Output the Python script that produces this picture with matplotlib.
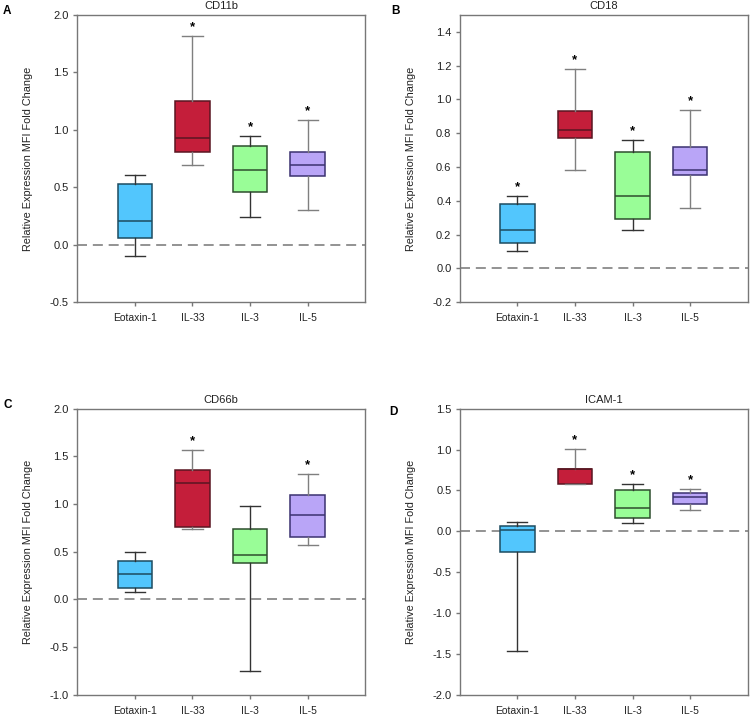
import matplotlib.pyplot as plt

plt.rcParams['font.family'] = ['Liberation Sans', 'DejaVu Sans']

categories = ['Eotaxin-1', 'IL-33', 'IL-3', 'IL-5']

# five-number summaries per group: whisker low, q1, median, q3, whisker high
cd11b_low = [-0.10, 0.69, 0.24, 0.30]
cd11b_q1 = [0.06, 0.81, 0.46, 0.60]
cd11b_med = [0.21, 0.93, 0.65, 0.69]
cd11b_q3 = [0.53, 1.25, 0.86, 0.81]
cd11b_high = [0.61, 1.82, 0.95, 1.09]
cd11b_sig = [False, True, True, True]

cd18_low = [0.10, 0.58, 0.23, 0.36]
cd18_q1 = [0.15, 0.77, 0.29, 0.55]
cd18_med = [0.23, 0.82, 0.43, 0.58]
cd18_q3 = [0.38, 0.93, 0.69, 0.72]
cd18_high = [0.43, 1.18, 0.76, 0.94]
cd18_sig = [True, True, True, True]

cd66b_low = [0.08, 0.74, -0.75, 0.57]
cd66b_q1 = [0.12, 0.76, 0.38, 0.65]
cd66b_med = [0.27, 1.22, 0.46, 0.88]
cd66b_q3 = [0.40, 1.36, 0.74, 1.10]
cd66b_high = [0.50, 1.57, 0.98, 1.32]
cd66b_sig = [False, True, False, True]

icam1_low = [-1.47, 0.58, 0.10, 0.26]
icam1_q1 = [-0.26, 0.58, 0.16, 0.33]
icam1_med = [0.01, 0.76, 0.29, 0.42]
icam1_q3 = [0.07, 0.76, 0.50, 0.47]
icam1_high = [0.11, 1.01, 0.58, 0.52]
icam1_sig = [False, True, True, True]

fills = ['#52C6FD', '#C41E3A', '#99FD97', '#B9A5F7']
edges = ['#1d4c60', '#5a1622', '#2e4e2e', '#3b3270']
whisk = ['#333333', '#7f7f7f', '#333333', '#7f7f7f']

panels = [
    ('A', 'CD11b', cd11b_low, cd11b_q1, cd11b_med, cd11b_q3, cd11b_high, cd11b_sig,
     (-0.5, 2.0), [-0.5, 0.0, 0.5, 1.0, 1.5, 2.0]),
    ('B', 'CD18', cd18_low, cd18_q1, cd18_med, cd18_q3, cd18_high, cd18_sig,
     (-0.2, 1.5), [-0.2, 0.0, 0.2, 0.4, 0.6, 0.8, 1.0, 1.2, 1.4]),
    ('C', 'CD66b', cd66b_low, cd66b_q1, cd66b_med, cd66b_q3, cd66b_high, cd66b_sig,
     (-1.0, 2.0), [-1.0, -0.5, 0.0, 0.5, 1.0, 1.5, 2.0]),
    ('D', 'ICAM-1', icam1_low, icam1_q1, icam1_med, icam1_q3, icam1_high, icam1_sig,
     (-2.0, 1.5), [-2.0, -1.5, -1.0, -0.5, 0.0, 0.5, 1.0, 1.5]),
]

rects = [
    [0.103, 0.578, 0.384, 0.401],
    [0.613, 0.578, 0.384, 0.401],
    [0.103, 0.030, 0.384, 0.399],
    [0.613, 0.030, 0.384, 0.399],
]
label_pos = [(0.004, 0.993), (0.522, 0.993), (0.004, 0.443), (0.519, 0.433)]

fig = plt.figure(figsize=(7.5, 7.16), dpi=100)
spine_c = '#777777'
text_c = '#222222'

for p, rect, lp in zip(panels, rects, label_pos):
    letter, title, lo, q1, med, q3, hi, sig, ylim, yt = p
    ax = fig.add_axes(rect)
    pos = [1, 2, 3, 4]
    stats = []
    for i in range(4):
        stats.append({'whislo': lo[i], 'q1': q1[i], 'med': med[i], 'q3': q3[i],
                      'whishi': hi[i], 'fliers': []})
    bp = ax.bxp(stats, positions=pos, widths=0.6, patch_artist=True,
                showfliers=False, capwidths=0.35)
    for i in range(4):
        bp['boxes'][i].set_facecolor(fills[i])
        bp['boxes'][i].set_edgecolor(edges[i])
        bp['boxes'][i].set_linewidth(1.1)
        bp['medians'][i].set_color(edges[i])
        bp['medians'][i].set_linewidth(1.1)
        for w in bp['whiskers'][2 * i:2 * i + 2] + bp['caps'][2 * i:2 * i + 2]:
            w.set_color(whisk[i])
            w.set_linewidth(1.0)
        if sig[i]:
            ax.annotate('*', (pos[i], hi[i]), xytext=(0, 2), textcoords='offset points',
                        ha='center', va='bottom', fontsize=9.5, fontweight='bold')
    ax.axhline(0, color='#808080', lw=1.2, dashes=(6, 3.5), zorder=0.5)
    ax.set_xlim(0, 5)
    ax.set_ylim(*ylim)
    ax.set_yticks(yt)
    ax.set_yticklabels(['%.1f' % v for v in yt])
    ax.set_xticks(pos)
    ax.set_xticklabels(categories)
    ax.tick_params(axis='both', length=3, width=1, color=spine_c,
                   labelcolor=text_c)
    ax.tick_params(axis='y', labelsize=8, pad=3)
    ax.tick_params(axis='x', labelsize=7.5, pad=5)
    for s in ax.spines.values():
        s.set_color(spine_c)
        s.set_linewidth(1.0)
    ax.set_ylabel('Relative Expression MFI Fold Change', fontsize=7.8, color=text_c)
    ax.yaxis.set_label_coords(-0.152, 0.5)
    ax.set_title(title, fontsize=8, color=text_c, pad=4)
    fig.text(lp[0], lp[1], letter, fontsize=8.5, fontweight='bold', va='top')

fig.savefig('out.png', dpi=100)
